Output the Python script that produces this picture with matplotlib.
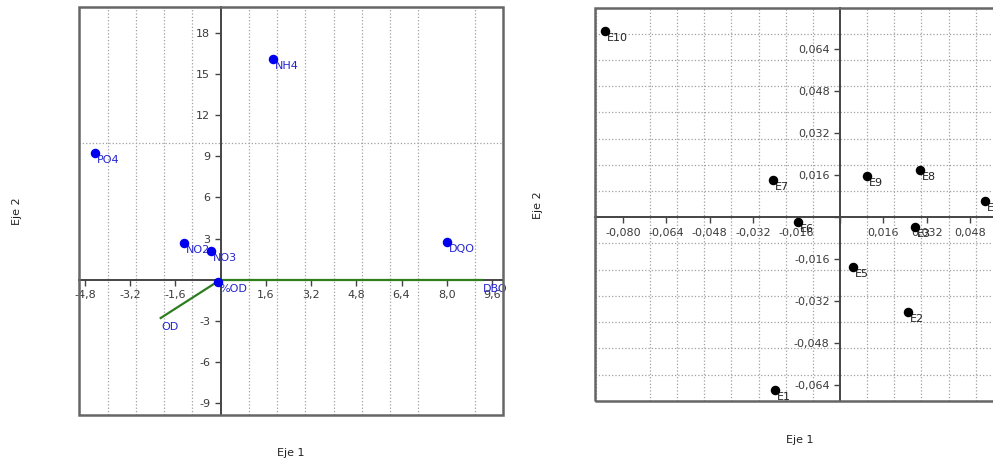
import matplotlib
matplotlib.use("Agg")
import matplotlib.pyplot as plt
from matplotlib.ticker import MultipleLocator, FuncFormatter
from matplotlib.patches import Rectangle

# left panel: variables (blue points) and vectors (green lines)
var_names = ["PO4", "NO2", "NO3", "NH4", "%OD", "DQO"]
var_x = [-4.46, -1.31, -0.35, 1.84, -0.1, 8.0]
var_y = [9.25, 2.68, 2.1, 16.1, -0.15, 2.75]

vec_names = ["OD", "DBO"]
vec_x = [-2.12, 9.24]
vec_y = [-2.8, 0.0]

# right panel: sites
site_names = ["E1", "E2", "E3", "E4", "E5", "E6", "E7", "E8", "E9", "E10"]
site_x = [-0.024, 0.0251, 0.0276, 0.0535, 0.0048, -0.0155, -0.0247, 0.0295, 0.00995, -0.0866]
site_y = [-0.066, -0.0363, -0.0038, 0.0061, -0.0191, -0.0019, 0.0141, 0.018, 0.0157, 0.071]

tick_col = "#3a3a3a"


def fmt(dec):
    def f(v, pos):
        if abs(v) < 1e-9:
            return ""
        s = ("{:.%df}" % dec).format(v)
        return s.replace(".", ",")
    return FuncFormatter(f)


def style_axes(ax, xmaj, ymaj, xgrid, ygrid, xdec, ydec):
    ax.spines["left"].set_position(("data", 0))
    ax.spines["bottom"].set_position(("data", 0))
    ax.spines["top"].set_visible(False)
    ax.spines["right"].set_visible(False)
    ax.spines["left"].set_color("#444444")
    ax.spines["left"].set_linewidth(1.4)
    ax.spines["bottom"].set_color("#444444")
    ax.spines["bottom"].set_linewidth(1.4)
    ax.spines["bottom"].set_linestyle((0, (4, 1)))
    ax.add_patch(Rectangle((0, 0), 1, 1, transform=ax.transAxes, fill=False,
                           ec="#666666", lw=1.8, clip_on=False, zorder=6))
    ax.xaxis.set_major_locator(MultipleLocator(xmaj))
    ax.yaxis.set_major_locator(MultipleLocator(ymaj))
    ax.xaxis.set_minor_locator(MultipleLocator(xgrid))
    ax.yaxis.set_minor_locator(MultipleLocator(ygrid))
    ax.xaxis.set_major_formatter(fmt(xdec))
    ax.yaxis.set_major_formatter(fmt(ydec))
    ax.tick_params(which="major", direction="out", length=4, width=1,
                   color="#444444", labelsize=8, labelcolor=tick_col)
    ax.tick_params(which="minor", length=0)
    ax.grid(which="minor", linestyle=":", color="#a0a0a0", linewidth=0.9)
    ax.set_axisbelow(True)


fig = plt.figure(figsize=(9.93, 4.65), dpi=100)

# ---- left panel
ax1 = fig.add_axes([79 / 993, 1 - 415 / 465, 424 / 993, 408 / 465])
ax1.set_xlim(-5.01, 9.99)
ax1.set_ylim(-9.88, 19.9)
style_axes(ax1, 1.6, 3, 1, 10, 1, 0)

for name, x, y in zip(vec_names, vec_x, vec_y):
    ax1.plot([0, x], [0, y], color="#2e7d1e", lw=1.6, zorder=4)
    ax1.annotate(name, (x, y), xytext=(1, -9), textcoords="offset pixels",
                 ha="left", va="center", fontsize=8, color="#2424d0",
                 annotation_clip=False)

ax1.scatter(var_x, var_y, s=34, color="#0000ee", zorder=5)
for name, x, y in zip(var_names, var_x, var_y):
    ax1.annotate(name, (x, y), xytext=(2, -7), textcoords="offset pixels",
                 ha="left", va="center", fontsize=8, color="#2424d0", zorder=3)

# ---- right panel
ax2 = fig.add_axes([595 / 993, 1 - 401 / 465, 410 / 993, 393 / 465])
ax2.set_xlim(-0.0903, 0.0608)
ax2.set_ylim(-0.0701, 0.0798)
style_axes(ax2, 0.016, 0.016, 0.01, 0.01, 3, 3)

ax2.scatter(site_x, site_y, s=34, color="#000000", zorder=5)
for name, x, y in zip(site_names, site_x, site_y):
    ax2.annotate(name, (x, y), xytext=(2, -7), textcoords="offset pixels",
                 ha="left", va="center", fontsize=8, color="#222222", zorder=3)

# axis titles
fig.text(291 / 993, 1 - 453 / 465, "Eje 1", ha="center", va="center", fontsize=8, color="#222222")
fig.text(17 / 993, 1 - 211 / 465, "Eje 2", ha="center", va="center", rotation=90, fontsize=8, color="#222222")
fig.text(800 / 993, 1 - 440 / 465, "Eje 1", ha="center", va="center", fontsize=8, color="#222222")
fig.text(538 / 993, 1 - 205 / 465, "Eje 2", ha="center", va="center", rotation=90, fontsize=8, color="#222222")

fig.savefig("out.png", dpi=100)
